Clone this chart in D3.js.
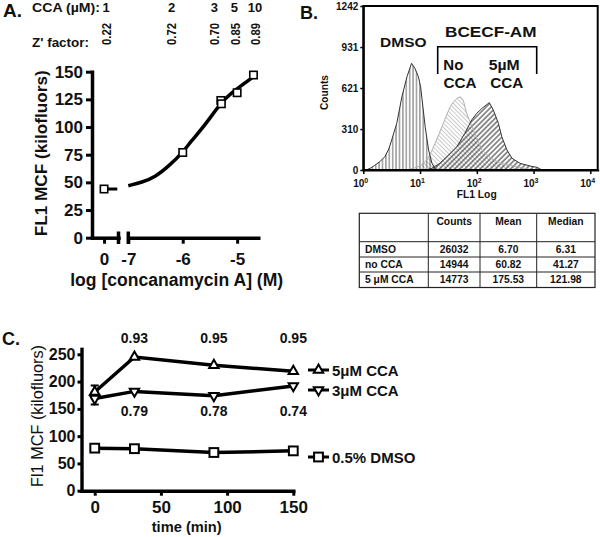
<!DOCTYPE html>
<html><head><meta charset="utf-8">
<script src="https://cdn.jsdelivr.net/npm/d3@7"></script>
<style>
body{margin:0;background:#fff}
svg{display:block}
text{font-family:"Liberation Sans",Arial,Helvetica,sans-serif;fill:#111}
</style>
</head><body>
<svg id="c" width="600" height="537"></svg>
<script>
// ---------------- DATA ----------------
// Panel A
const ccaHeader = ["1", "2", "3", "5", "10"];
const zPrimeA = ["0.22", "0.72", "0.70", "0.85", "0.89"];
const concLog = [-6, -5.30, -5.29, -5, -4.7];
const fl1Mcf = [77, 124, 121, 131, 147];
const zeroConcValue = 44;
const fitLog = [-7, -6.75, -6.5, -6.25, -6, -5.85, -5.6, -5.3, -5.1, -4.85, -4.66];
const fitMcf = [47, 50, 55, 65, 77, 87, 101, 122, 131, 140, 147];
const yTicksA = [0, 25, 50, 75, 100, 125, 150];
const xTicksA = [-7, -6, -5];

// Panel B histograms (log10 FL1, counts)
const dmsoLog = [0.05, 0.12, 0.2, 0.29, 0.38, 0.45, 0.5, 0.59, 0.68, 0.77, 0.85, 0.91, 0.97, 1.01, 1.09, 1.15, 1.21, 1.26, 1.32];
const dmsoCounts = [0, 13, 35, 63, 100, 160, 227, 354, 555, 707, 808, 770, 707, 631, 328, 152, 51, 13, 0];
const noCcaLog = [0.75, 0.9, 1.0, 1.12, 1.2, 1.29, 1.41, 1.53, 1.6, 1.65, 1.71, 1.76, 1.82, 1.94, 2.09, 2.25, 2.41, 2.7, 3.0];
const noCcaCounts = [0, 15, 30, 76, 140, 227, 354, 480, 520, 543, 555, 530, 430, 303, 152, 90, 51, 25, 0];
const ccaLog = [1.1, 1.21, 1.35, 1.41, 1.47, 1.65, 1.79, 1.91, 2.0, 2.1, 2.22, 2.29, 2.38, 2.44, 2.53, 2.62, 2.76, 2.94, 3.06, 3.15];
const ccaCounts = [0, 13, 51, 76, 100, 177, 278, 379, 430, 470, 510, 455, 354, 252, 152, 89, 51, 30, 20, 0];
const yTicksB = [0, 310, 621, 931, 1242];
const xTicksB = [0, 1, 2, 3, 4];

// Panel B table
const tableHead = ["", "Counts", "Mean", "Median"];
const tableRows = ["DMSO", "no CCA", "5 μM CCA"];
const tableCounts = ["26032", "14944", "14773"];
const tableMeans = ["6.70", "60.82", "175.53"];
const tableMedians = ["6.31", "41.27", "121.98"];

// Panel C
const times = [0, 30, 90, 150];
const cca5 = [181, 245, 230, 219];
const cca5Err = [12, 0, 0, 0];
const cca3 = [169, 182, 174, 192];
const cca3Err = [11, 0, 0, 0];
const dmso = [78, 77, 70, 73];
const zTop = ["0.93", "0.95", "0.95"];
const zBottom = ["0.79", "0.78", "0.74"];
const zTimes = [30, 90, 150];
const yTicksC = [0, 50, 100, 150, 200, 250];
const xTicksC = [0, 50, 100, 150];
const legendLabels = ["5μM CCA", "3μM CCA", "0.5% DMSO"];

// ---------------- DRAW ----------------
const svg = d3.select("#c");
svg.append("rect").attr("width", 600).attr("height", 537).attr("fill", "#fff");

function txt(g, s, x, y, size, o = {}) {
  const t = g.append("text").attr("x", x).attr("y", y).style("font-size", size + "px")
    .style("font-weight", o.weight || "bold").text(s);
  if (o.anchor) t.attr("text-anchor", o.anchor);
  if (o.len) t.attr("textLength", o.len).attr("lengthAdjust", "spacingAndGlyphs");
  if (o.rot) t.attr("transform", `rotate(${o.rot},${x},${y})`);
  if (o.dy) t.attr("dy", o.dy);
  return t;
}
function styleAxis(ax, dw, tw, fs) {
  ax.select(".domain").attr("stroke", "#000").attr("stroke-width", dw).attr("stroke-linecap", "square");
  ax.selectAll(".tick line").attr("stroke", "#000").attr("stroke-width", tw);
  ax.selectAll(".tick text").style("font-size", fs + "px").style("font-weight", "bold").attr("fill", "#111");
}

// ===== Panel A =====
const gA = svg.append("g");
txt(gA, "A.", 3, 17, 19);
txt(gA, "CCA (µM):", 32, 12, 13, {len: 68});
txt(gA, "Z' factor:", 32, 46.5, 13, {len: 57});
const headX = [106, 171.7, 214.3, 234.3, 255];
ccaHeader.forEach((s, i) => txt(gA, s, headX[i], 12, 13, {anchor: "middle"}));
const zX = [106, 171.7, 214.3, 235, 255];
zPrimeA.forEach((s, i) => txt(gA, s, zX[i] + 4.5, 34, 12, {anchor: "middle", rot: -90, len: 22}));

const yA = d3.scaleLinear().domain([0, 150]).range([237.7, 71.7]);
const xA0 = d3.scaleLinear().domain([-1, 1.2]).range([92, 118.5]);
const xA = d3.scaleLinear().domain([-7, -4.58]).range([128.3, 260]);

const axAy = gA.append("g").attr("transform", "translate(92,0)")
  .call(d3.axisLeft(yA).tickValues(yTicksA).tickSize(6).tickSizeOuter(0).tickPadding(3));
styleAxis(axAy, 3.5, 3, 17);
const axAx0 = gA.append("g").attr("transform", "translate(0,237.7)")
  .call(d3.axisBottom(xA0).tickValues([0]).tickSize(6).tickSizeOuter(0).tickPadding(9).tickFormat(d => String(d)));
styleAxis(axAx0, 3.5, 3, 17);
const axAx = gA.append("g").attr("transform", "translate(0,237.7)")
  .call(d3.axisBottom(xA).tickValues(xTicksA).tickSize(6).tickSizeOuter(0).tickPadding(9).tickFormat(d => String(d)));
styleAxis(axAx, 3.5, 3, 17);
axAx.select(".domain").attr("stroke-linecap", "butt");
// axis break marks
[xA0.range()[1], xA.range()[0]].forEach(x => gA.append("line").attr("x1", x).attr("x2", x)
  .attr("y1", 231.5).attr("y2", 244).attr("stroke", "#000").attr("stroke-width", 3.5));

// fit curve
gA.append("path").datum(fitLog.map((d, i) => [d, fitMcf[i]]))
  .attr("d", d3.line().x(d => xA(d[0])).y(d => yA(d[1])).curve(d3.curveBasis))
  .attr("fill", "none").attr("stroke", "#000").attr("stroke-width", 3.5);
gA.append("line").attr("x1", xA0(0)).attr("x2", xA0(1.1)).attr("y1", yA(zeroConcValue)).attr("y2", yA(zeroConcValue))
  .attr("stroke", "#000").attr("stroke-width", 3);
// squares
const sqA = concLog.map((d, i) => [xA(d), yA(fl1Mcf[i])]).concat([[xA0(0), yA(zeroConcValue)]]);
gA.selectAll(".sqA").data(sqA).join("rect").attr("x", d => d[0] - 3.7).attr("y", d => d[1] - 3.7)
  .attr("width", 7.4).attr("height", 7.4).attr("fill", "#fff").attr("stroke", "#000").attr("stroke-width", 1.6);

txt(gA, "FL1 MCF (kilofluors)", 47, 153.3, 17, {anchor: "middle", rot: -90, len: 166});
txt(gA, "log [concanamycin A] (M)", 176.7, 286, 17.5, {anchor: "middle", len: 213});

// ===== Panel B =====
const gB = svg.append("g");
txt(gB, "B.", 300, 19, 18);
const xB = d3.scaleLinear().domain([0, 4.13]).range([363.3, 597.7]);
const yB = d3.scaleLinear().domain([0, 1242]).range([170, 6]);

const defs = svg.append("defs");
function hatch(id, w, rot, color, sw) {
  const p = defs.append("pattern").attr("id", id).attr("patternUnits", "userSpaceOnUse")
    .attr("width", w).attr("height", 10);
  if (rot) p.attr("patternTransform", `rotate(${rot})`);
  p.append("line").attr("x1", w / 2).attr("x2", w / 2).attr("y1", 0).attr("y2", 10)
    .attr("stroke", color).attr("stroke-width", sw);
}
hatch("hDmso", 3.4, 0, "#333", 0.8);
hatch("hNo", 3.0, -45, "#bdbdbd", 0.8);
hatch("hCca", 3.6, 45, "#2a2a2a", 1);

const area = d3.area().x(d => xB(d[0])).y0(yB(0)).y1(d => yB(d[1]));
const line = d3.line().x(d => xB(d[0])).y(d => yB(d[1]));
const histNo = noCcaLog.map((d, i) => [d, noCcaCounts[i]]);
const histCca = ccaLog.map((d, i) => [d, ccaCounts[i]]);
const histDmso = dmsoLog.map((d, i) => [d, dmsoCounts[i]]);
gB.append("path").attr("d", area(histNo)).attr("fill", "url(#hNo)");
gB.append("path").attr("d", area(histCca)).attr("fill", "url(#hCca)");
gB.append("path").attr("d", area(histDmso)).attr("fill", "url(#hDmso)");
gB.append("path").attr("d", line(histNo)).attr("fill", "none").attr("stroke", "#b0b0b0").attr("stroke-width", 1);
gB.append("path").attr("d", line(histCca)).attr("fill", "none").attr("stroke", "#333").attr("stroke-width", 1);
gB.append("path").attr("d", line(histDmso)).attr("fill", "none").attr("stroke", "#333").attr("stroke-width", 1);

gB.append("rect").attr("x", 363.3).attr("y", 6).attr("width", 597.7 - 363.3).attr("height", 164)
  .attr("fill", "none").attr("stroke", "#000").attr("stroke-width", 2);
const axBy = gB.append("g").attr("transform", "translate(363.3,0)")
  .call(d3.axisLeft(yB).tickValues(yTicksB).tickSize(3).tickSizeOuter(0).tickPadding(2).tickFormat(d => String(d)));
styleAxis(axBy, 2, 1.5, 10);
const axBx = gB.append("g").attr("transform", "translate(0,170)")
  .call(d3.axisBottom(xB).tickValues(xTicksB).tickSize(4).tickSizeOuter(0).tickFormat(""));
styleAxis(axBx, 2, 1.5, 10);
xTicksB.forEach(d => {
  txt(gB, "10", xB(d) + 1, 187, 10, {anchor: "end"});
  txt(gB, String(d), xB(d) + 1, 182.5, 7);
});
txt(gB, "FL1 Log", 476.7, 198, 10.5, {anchor: "middle", len: 40});
txt(gB, "Counts", 328, 92.5, 10, {anchor: "middle", rot: -90, len: 35});

txt(gB, "DMSO", 403.3, 46.7, 13.5, {anchor: "middle", len: 46.5});
txt(gB, "BCECF-AM", 490.8, 36.5, 14, {anchor: "middle", len: 91.5});
gB.append("path").attr("d", "M437.7,74V46.7H536.7V74").attr("fill", "none").attr("stroke", "#000").attr("stroke-width", 1.6);
txt(gB, "No", 453.3, 70, 14, {anchor: "middle", len: 20});
txt(gB, "CCA", 460, 88.3, 14, {anchor: "middle", len: 33});
txt(gB, "5µM", 504.2, 70, 14, {anchor: "middle", len: 31});
txt(gB, "CCA", 506.7, 88.3, 14, {anchor: "middle", len: 33});

// table
const colX = [359.3, 428.3, 480, 536.7, 595];
const rowY = [213.3, 241.7, 257, 272, 287.5];
const gT = gB.append("g");
gT.append("rect").attr("x", colX[0]).attr("y", rowY[0]).attr("width", colX[4] - colX[0]).attr("height", rowY[4] - rowY[0])
  .attr("fill", "none").attr("stroke", "#222").attr("stroke-width", 1.2);
colX.slice(1, 4).forEach(x => gT.append("line").attr("x1", x).attr("x2", x).attr("y1", rowY[0]).attr("y2", rowY[4]).attr("stroke", "#222").attr("stroke-width", 1));
rowY.slice(1, 4).forEach(y => gT.append("line").attr("x1", colX[0]).attr("x2", colX[4]).attr("y1", y).attr("y2", y).attr("stroke", "#222").attr("stroke-width", 1));
tableHead.forEach((s, j) => { if (s) txt(gT, s, (colX[j] + colX[j + 1]) / 2, 225, 10.3, {anchor: "middle"}); });
tableRows.forEach((s, i) => {
  const yb = (rowY[i + 1] + rowY[i + 2]) / 2 + 3.7;
  txt(gT, s, 365, yb, 10.3);
  [tableCounts[i], tableMeans[i], tableMedians[i]].forEach((v, j) =>
    txt(gT, v, (colX[j + 1] + colX[j + 2]) / 2, yb, 10.3, {anchor: "middle"}));
});

// ===== Panel C =====
const gC = svg.append("g");
txt(gC, "C.", 2, 345, 18);
const xC = d3.scaleLinear().domain([-10, 150]).range([81.5, 293.3]);
const yC = d3.scaleLinear().domain([0, 260]).range([490.7, 490.7 - 260 * 0.5456]);
const axCy = gC.append("g").attr("transform", "translate(81.5,0)")
  .call(d3.axisLeft(yC).tickValues(yTicksC).tickSize(4).tickSizeOuter(0).tickPadding(2));
styleAxis(axCy, 3.4, 3, 16);
const axCx = gC.append("g").attr("transform", "translate(0,490.7)")
  .call(d3.axisBottom(xC).tickValues(xTicksC).tickSize(5).tickSizeOuter(0).tickPadding(5));
styleAxis(axCx, 3.4, 3, 17);

const lineC = d3.line().x(d => xC(d[0])).y(d => yC(d[1]));
const series = [
  {vals: cca5, err: cca5Err, sym: "up", ly: 370},
  {vals: cca3, err: cca3Err, sym: "down", ly: 390},
  {vals: dmso, err: [0, 0, 0, 0], sym: "sq", ly: 457}
];
function marker(g, sym, x, y) {
  if (sym === "sq") {
    g.append("rect").attr("x", x - 4.4).attr("y", y - 4.4).attr("width", 8.8).attr("height", 8.8)
      .attr("fill", "#fff").attr("stroke", "#000").attr("stroke-width", 2);
  } else {
    g.append("path").attr("d", d3.symbol(d3.symbolTriangle, 38)())
      .attr("transform", `translate(${x},${y})` + (sym === "down" ? " rotate(180)" : ""))
      .attr("fill", "#fff").attr("stroke", "#000").attr("stroke-width", 2);
  }
}
series.forEach(s => {
  const pts = times.map((t, i) => [t, s.vals[i]]);
  gC.append("path").attr("d", lineC(pts)).attr("fill", "none").attr("stroke", "#000").attr("stroke-width", 3.5);
  times.forEach((t, i) => {
    if (s.err[i] > 0) {
      const x = xC(t), y1 = yC(s.vals[i] - s.err[i]), y2 = yC(s.vals[i] + s.err[i]);
      gC.append("path").attr("d", `M${x},${y1}V${y2}M${x - 4},${y1}H${x + 4}M${x - 4},${y2}H${x + 4}`)
        .attr("stroke", "#000").attr("stroke-width", 2).attr("fill", "none");
    }
  });
});
series.forEach(s => times.forEach((t, i) => marker(gC, s.sym, xC(t), yC(s.vals[i]))));

zTimes.forEach((t, i) => {
  txt(gC, zTop[i], xC(t), 343, 14, {anchor: "middle"});
  txt(gC, zBottom[i], xC(t), 415.5, 14, {anchor: "middle"});
});

// legend
series.forEach((s, i) => {
  gC.append("line").attr("x1", 308).attr("x2", 329).attr("y1", s.ly).attr("y2", s.ly).attr("stroke", "#000").attr("stroke-width", 3);
  marker(gC, s.sym, 318.5, s.ly);
  txt(gC, legendLabels[i], 332, s.ly + 5.5, 15);
});

txt(gC, "Fl1 MCF (kilofluors)", 42.5, 416, 16, {anchor: "middle", rot: -90, weight: "normal", len: 142});
txt(gC, "time (min)", 186.7, 531.5, 15.5, {anchor: "middle", len: 70});
</script>
</body></html>
